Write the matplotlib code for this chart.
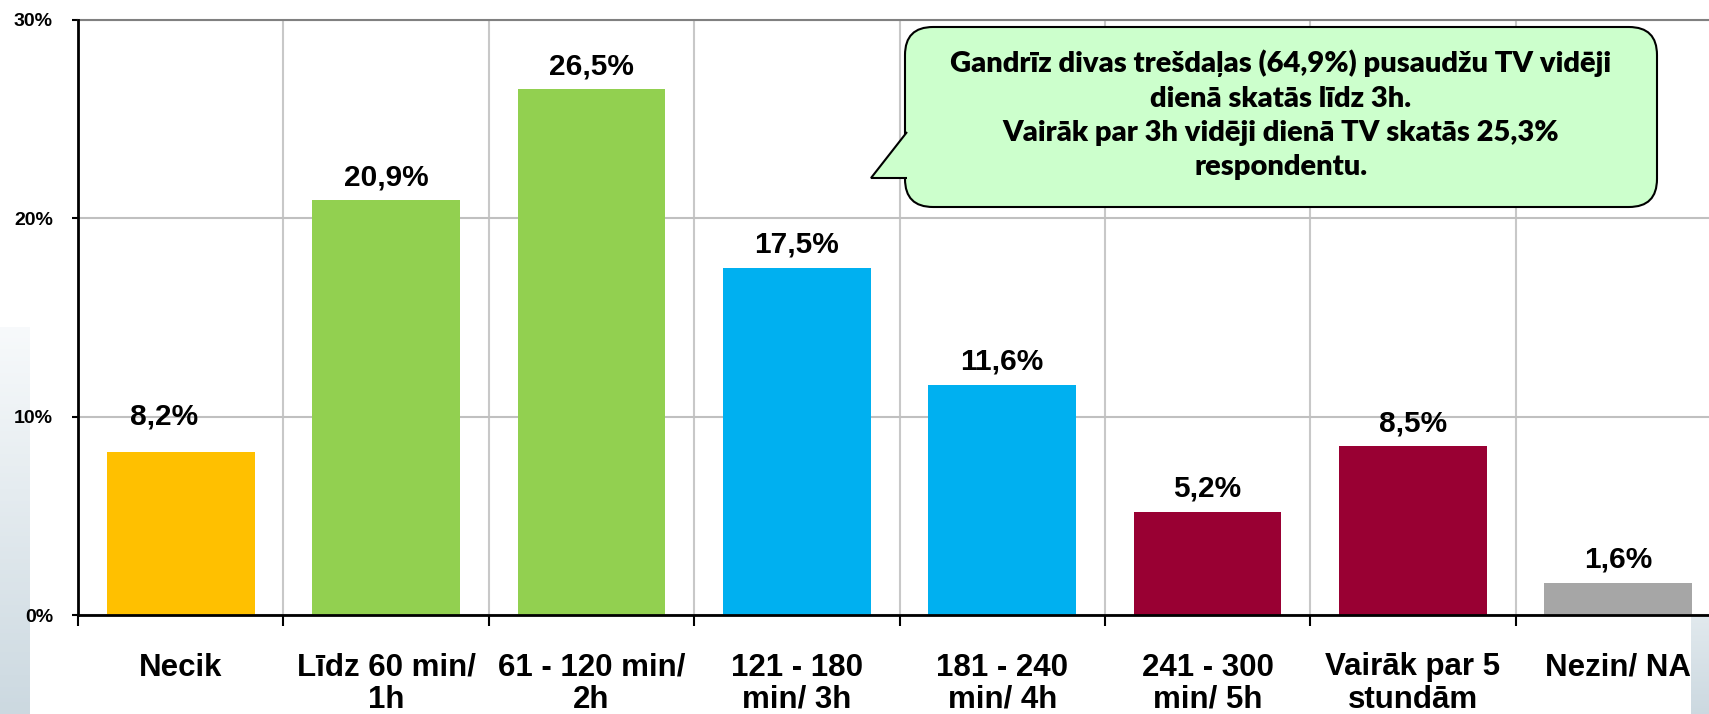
import numpy as np
import matplotlib
matplotlib.use("Agg")
import matplotlib.pyplot as plt
from matplotlib.patches import FancyBboxPatch, Polygon

# data
cats = ["Necik", "Līdz 60 min/\n1h", "61 - 120 min/\n2h", "121 - 180\nmin/ 3h",
        "181 - 240\nmin/ 4h", "241 - 300\nmin/ 5h", "Vairāk par 5\nstundām", "Nezin/ NA"]
vals = [8.2, 20.9, 26.5, 17.5, 11.6, 5.2, 8.5, 1.6]
yticks = [0, 10, 20, 30]
note = ("Gandrīz divas trešdaļas (64,9%) pusaudžu TV vidēji\n"
        "dienā skatās līdz 3h.\n"
        "Vairāk par 3h vidēji dienā TV skatās 25,3%\n"
        "respondentu.")

# style
colors = ["#FFC000", "#92D050", "#92D050", "#00B0F0", "#00B0F0",
          "#990033", "#990033", "#A6A6A6"]
lab_off = [(-12, 20), (0, 11), (0, 11), (0, 11), (0, 11), (0, 11), (0, 11), (0, 11)]
W, H = 1709, 714
plt.rcParams['font.family'] = ['Liberation Sans', 'DejaVu Sans']
plt.rcParams['font.weight'] = 'bold'

def fx(x): return x / W
def fy(y): return 1 - y / H

fig = plt.figure(figsize=(W / 100, H / 100), dpi=100)

# slide background strips
g = np.linspace(0, 1, 100).reshape(-1, 1)
c0 = np.array([0.97, 0.98, 0.985]); c1 = np.array([0.80, 0.85, 0.88])
grad = c0 + (c1 - c0) * g[:, :, None]
bl = fig.add_axes([0, 0, fx(30), fy(327)], zorder=0)
bl.imshow(grad, aspect='auto', extent=[0, 1, 0, 1], origin='upper')
bl.axis('off')
br = fig.add_axes([fx(1691), 0, fx(W - 1691), fy(615)], zorder=0)
br.imshow(grad[50:], aspect='auto', extent=[0, 1, 0, 1], origin='upper')
br.axis('off')

ax = fig.add_axes([fx(78), fy(615), fx(1721 - 78), (615 - 20) / H], zorder=1)
x = np.arange(len(vals))
ax.bar(x, vals, width=0.72, color=colors, zorder=3)
for i, v in enumerate(vals):
    ax.annotate(f"{v:.1f}%".replace(".", ","), (x[i], v), xytext=lab_off[i],
                textcoords='offset points', ha='center', va='baseline',
                fontsize=21.5, fontweight='bold')

ax.set_xlim(-0.5, len(vals) - 0.5)
ax.set_ylim(0, 30)
ax.set_yticks(yticks)
ax.set_yticklabels([f"{t}%" for t in yticks], fontsize=14, fontweight='bold')
ax.set_xticks(x)
ax.set_xticklabels(cats, fontsize=22.5, fontweight='bold', linespacing=1.1)
ax.set_xticks(np.arange(-0.5, len(vals)), minor=True)
ax.tick_params(axis='x', which='major', length=0, pad=27)
ax.tick_params(axis='x', which='minor', length=8, width=1.5, direction='out')
ax.tick_params(axis='y', length=4, width=1.5, pad=14)

ax.grid(axis='y', color='#C0C0C0', lw=1.5, zorder=0)
ax.grid(axis='x', which='minor', color='#C8C8C8', lw=1.5, zorder=0)
for s in ['left', 'bottom']:
    ax.spines[s].set_linewidth(2)
    ax.spines[s].set_zorder(4)
ax.spines['top'].set_color('#808080')
ax.spines['top'].set_linewidth(1.5)
ax.spines['right'].set_visible(False)

# callout
box = FancyBboxPatch((fx(905), fy(207)), fx(1657 - 905), (207 - 27) / H,
                     boxstyle="round,pad=0,rounding_size=0.0164",
                     transform=fig.transFigure, facecolor='#CCFFCC',
                     edgecolor='black', lw=1.5, zorder=5,
                     mutation_aspect=W / H)
fig.add_artist(box)
ptr = Polygon([(fx(907), fy(132)), (fx(871), fy(178)), (fx(907), fy(178))],
              closed=False, transform=fig.transFigure, facecolor='#CCFFCC',
              edgecolor='black', lw=1.5, zorder=6)
fig.add_artist(ptr)
fig.text(fx(1281), fy(115), note, ha='center', va='center', fontsize=21,
         fontweight='heavy', family=['Lato', 'DejaVu Sans'], linespacing=1.4,
         zorder=7)

fig.savefig("out.png", dpi=100)
